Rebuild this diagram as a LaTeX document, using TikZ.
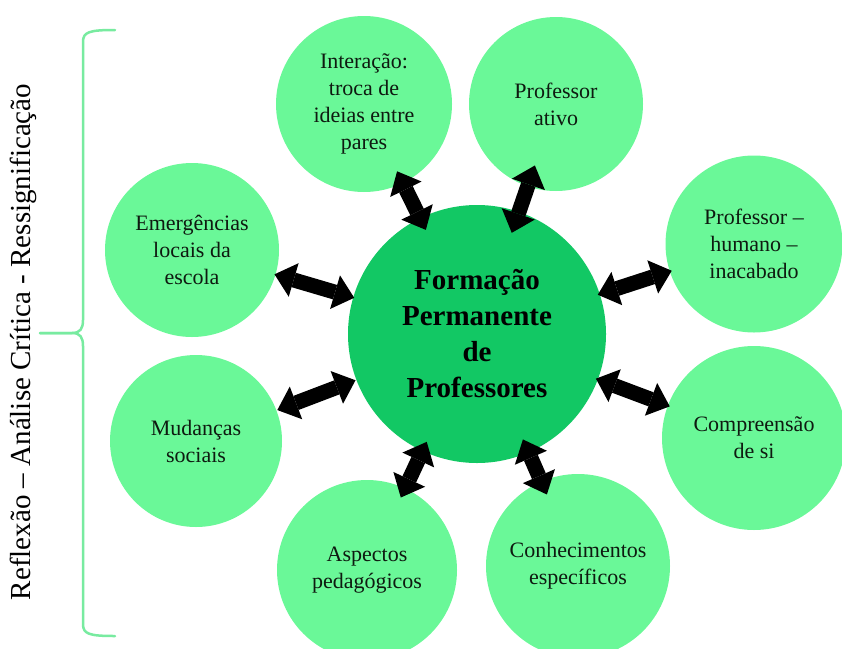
\documentclass[tikz,border=0pt]{standalone}
\usepackage{fontspec}
\setmainfont{Liberation Serif}
\usetikzlibrary{arrows.meta}

\definecolor{hubgreen}{RGB}{18,200,100}
\definecolor{leafgreen}{RGB}{106,248,152}
\definecolor{bracegreen}{RGB}{120,235,160}
\definecolor{inkgreen}{RGB}{14,26,16}

\begin{document}
\begin{tikzpicture}[x=1pt,y=-1pt,
	hub/.style={circle,fill=hubgreen,minimum size=258pt,inner sep=0pt,outer sep=0pt,align=center,font=\fontsize{29}{36}\selectfont\bfseries},
	leaf/.style={circle,fill=leafgreen,minimum size=176pt,inner sep=0pt,outer sep=0pt,align=center,text=inkgreen,font=\fontsize{22}{27}\selectfont},
	link/.style={line width=15pt,draw=black,{Triangle[length=20pt,width=35pt,line width=0pt]}-{Triangle[length=20pt,width=35pt,line width=0pt]},shorten <=-#1,shorten >=-#1},
	brace/.style={draw=bracegreen,line width=2.5pt,line cap=round}]
				\useasboundingbox (0,0) rectangle (842,648);
				% hub and the eight themes around it
				\node[hub] (Formacao) at (477,334) {Formação\\Permanente\\de\\Professores};
				\node[leaf] (Interacao) at (364,104) {Interação:\\troca de\\ideias entre\\pares};
				\node[leaf,minimum size=174pt] (ProfessorAtivo) at (556,104) {Professor\\ativo};
				\node[leaf,minimum size=177pt] (ProfessorHumano) at (754,244) {Professor –\\humano –\\inacabado};
				\node[leaf,minimum size=184pt] (Compreensao) at (754,438) {Compreensão\\de si};
				\node[leaf,minimum size=184pt] (Conhecimentos) at (578,566) {Conhecimentos\\específicos};
				\node[leaf,minimum size=180pt] (Aspectos) at (367,570) {Aspectos\\pedagógicos};
				\node[leaf,minimum size=172pt] (Mudancas) at (196,441) {Mudanças\\sociais};
				\node[leaf,minimum size=174pt] (Emergencias) at (192,250) {Emergências\\locais da\\escola};
				
				% double arrows hub <-> theme
				\draw[link=13pt] (Formacao) to (Interacao);
				\draw[link=22pt] (Formacao) to (ProfessorAtivo);
				\draw[link=2pt] (Formacao) to (ProfessorHumano);
				\draw[link=2pt] (Formacao) to (Compreensao);
				\draw[link=14pt] (Formacao) to (Conhecimentos);
				\draw[link=10pt] (Formacao) to (Aspectos);
				\draw[link=-1pt] (Formacao) to (Mudancas);
				\draw[link=1pt] (Formacao) to (Emergencias);
				
				% left brace and its label
				\draw[brace] (115,30) .. controls (89,30) and (83,32) .. (83,42) -- (83,320) .. controls (83,329) and (80,333) .. (72,333) -- (40,333);
				\draw[brace] (40,333) -- (72,333) .. controls (80,333) and (83,337) .. (83,346) -- (83,624) .. controls (83,634) and (89,636) .. (115,636);
				\node[rotate=90,font=\fontsize{29}{34}\selectfont] (Reflexao) at (23,342) {Reflexão – Análise Crítica - Ressignificação};
				
				\end{tikzpicture}
\end{document}
